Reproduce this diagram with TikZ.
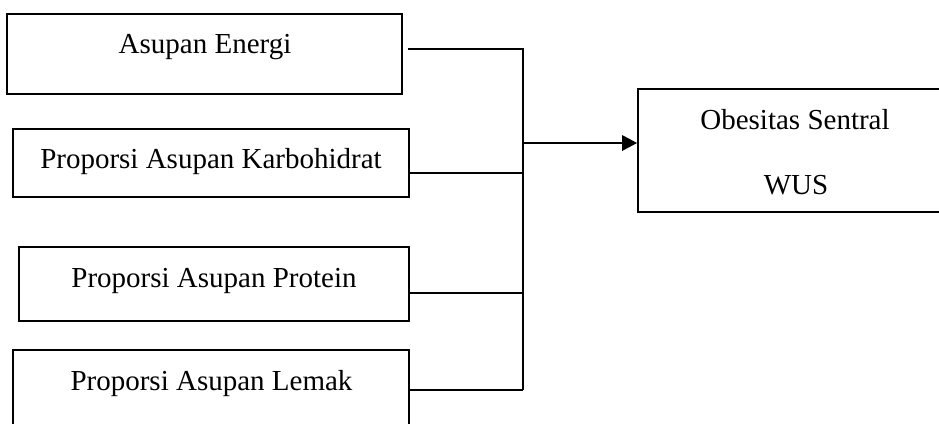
\documentclass[tikz,border=0pt]{standalone}
\usepackage{fontspec}
\setmainfont{Liberation Serif}
\usetikzlibrary{arrows.meta}
\begin{document}
\begin{tikzpicture}[x=1pt,y=-1pt,
  box/.style={draw=black,line width=1.6pt,inner sep=0pt,minimum width=#1},
  lbl/.style={font=\fontsize{29}{35}\selectfont,inner sep=0pt,anchor=base},
  conn/.style={line width=2pt,draw=black},
  arr/.style={line width=2.8pt,draw=black,-{Triangle[length=15pt,width=15pt]}}]
\useasboundingbox (0,0) rectangle (939,423);
\clip (0,0) rectangle (939,423);
% input boxes
\node[box=395pt,minimum height=80pt] (b1) at (204.5,54) {};
\node[lbl] (t1) at (205,53) {Asupan Energi};
\node[box=396pt,minimum height=68pt] (b2) at (211,163) {};
\node[lbl] (t2) at (211,168) {Proporsi Asupan Karbohidrat};
\node[box=390pt,minimum height=74pt] (b3) at (214,284) {};
\node[lbl] (t3) at (214,287) {Proporsi Asupan Protein};
\node[box=396pt,minimum height=100pt] (b4) at (211,400) {};
\node[lbl] (t4) at (211.5,390) {Proporsi Asupan Lemak};
% output box
\node[box=314pt,minimum height=123pt] (b5) at (795,150.5) {};
\node[lbl] (t5a) at (795,129) {Obesitas Sentral};
\node[lbl] (t5b) at (796,194) {WUS};
% junction points
\coordinate (j1) at (523,49);
\coordinate (j2) at (523,173);
\coordinate (j3) at (523,293);
\coordinate (j4) at (523,390);
\coordinate (jo) at (523,143);
% connectors
\draw[conn] ([xshift=5pt]b1.east |- j1) -- (j1) -- (j4);
\draw[conn] (b2.east |- j2) -- (j2);
\draw[conn] (b3.east |- j3) -- (j3);
\draw[conn] (b4.east |- j4) -- (j4);
\draw[arr] (jo) -- (jo -| b5.west);
\end{tikzpicture}
\end{document}
